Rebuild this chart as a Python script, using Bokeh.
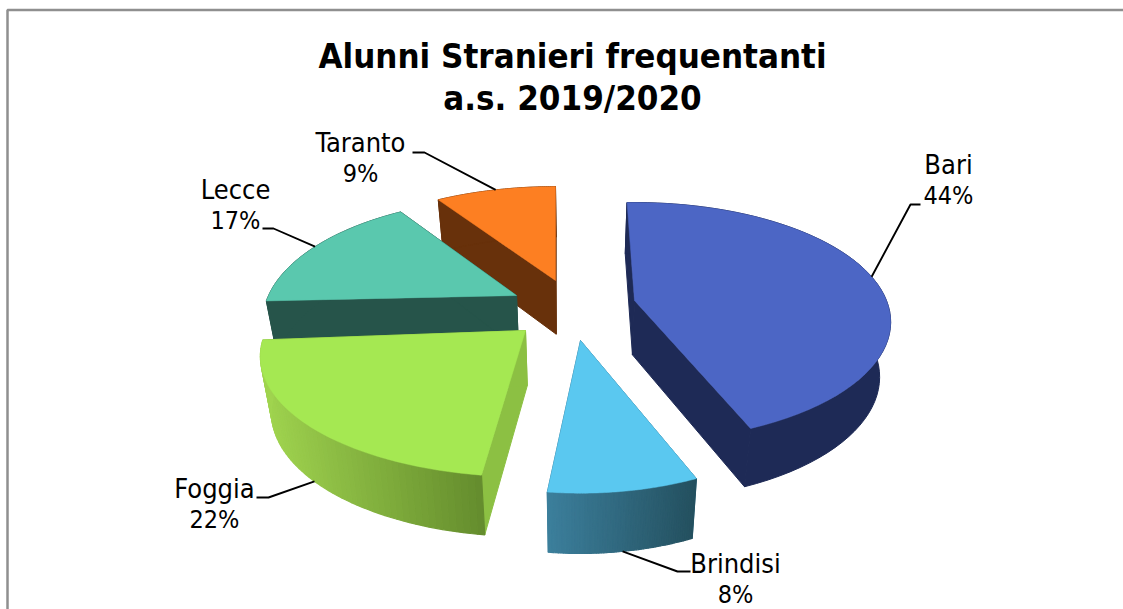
import numpy as np
from bokeh.plotting import figure
from bokeh.embed import file_html
from bokeh.resources import INLINE
from bokeh.models import Range1d

categories = ["Bari", "Brindisi", "Foggia", "Lecce", "Taranto"]
percent = [44, 8, 22, 17, 9]

# style / layout (screen pixel frame)
FONT = "DejaVu Sans Condensed, DejaVu Sans"
START = -1.0
persp = {"Bari": 0.18, "Brindisi": 0.214, "Foggia": 0.214, "Lecce": 0.214, "Taranto": 0.214}
radii = {"Bari": (252, 115.6), "Brindisi": (242, 120), "Foggia": (259, 115), "Lecce": (248, 118), "Taranto": (251, 114)}
trim = {"Bari": (-1, 0), "Brindisi": (0, 0), "Foggia": (1.5, 0), "Lecce": (2, 0), "Taranto": (0, 1)}
VIEW_CX, BOTTOM_SCALE = 575.0, 0.965
apex = {"Bari": (634, 300), "Brindisi": (580, 340), "Foggia": (525, 330), "Lecce": (516, 295), "Taranto": (555, 280)}
top_col = {"Bari": "#4c66c5", "Brindisi": "#5ac8f0", "Foggia": "#a5e852", "Lecce": "#5ac8ae", "Taranto": "#fd7f22"}
face_col = {"Bari": "#1e2a56", "Brindisi": "#3c7f9c", "Foggia": "#8cc043", "Lecce": "#26544a", "Taranto": "#68310b"}
side_l = {"Bari": "#1e2a56", "Brindisi": "#3c7f9c", "Foggia": "#a0d44f", "Lecce": "#26544a", "Taranto": "#68310b"}
side_r = {"Bari": "#1e2a56", "Brindisi": "#24505f", "Foggia": "#648c2d", "Lecce": "#26544a", "Taranto": "#68310b"}
draw_order = ["Taranto", "Lecce", "Bari", "Foggia", "Brindisi"]
label_pos = {"Bari": (948, 165), "Brindisi": (735, 564), "Foggia": (214, 489), "Lecce": (235, 190), "Taranto": (360, 143)}
leader = {"Bari": [(910, 204), (920, 204)], "Brindisi": [(677, 571), (690, 571)], "Foggia": [(268, 497), (256, 497)],
          "Lecce": [(273, 228), (262, 228)], "Taranto": [(424, 152), (412, 152)]}
leader_low = {"Bari": False, "Brindisi": True, "Foggia": True, "Lecce": False, "Taranto": False}


def rim(name, deg):
    t = np.radians(deg)
    X, Y = np.sin(t), np.cos(t)
    s = 1 / (1 + persp[name] * Y)
    ax, ay = apex[name]
    rx, ry = radii[name]
    return ax + rx * X * s, ay - ry * Y * s


def down(x, y):
    x, y = np.asarray(x, float), np.asarray(y, float)
    return VIEW_CX + (x - VIEW_CX) * BOTTOM_SCALE, y + 45 + 0.031 * y


def mix(a, b, f):
    ca = [int(a[i:i + 2], 16) for i in (1, 3, 5)]
    cb = [int(b[i:i + 2], 16) for i in (1, 3, 5)]
    return "#%02x%02x%02x" % tuple(int(round(p + (q - p) * f)) for p, q in zip(ca, cb))


cum = np.cumsum([0] + percent) * 3.6 + START
span = {c: (cum[i] + trim[c][0], cum[i + 1] + trim[c][1]) for i, c in enumerate(categories)}

p = figure(width=1123, height=609, x_range=Range1d(0, 1123), y_range=Range1d(609, 0),
           output_backend="svg", toolbar_location=None, min_border=0)
p.axis.visible = False
p.grid.visible = False
p.outline_line_color = None
p.background_fill_color = "white"

# frame
p.line([7, 7, 1123], [609, 9.5, 9.5], line_color="#8f8f8f", line_width=2.5)

for name in draw_order:
    a0, a1 = span[name]
    ang = np.linspace(a0, a1, 60)
    rx, ry = rim(name, ang)
    ax, ay = apex[name]
    bx, by = down(rx, ry)
    bax, bay = down(ax, ay)
    # radial faces
    for i in (0, -1):
        p.patch([ax, rx[i], bx[i], float(bax)], [ay, ry[i], by[i], float(bay)],
                fill_color=face_col[name], line_color=face_col[name], line_width=1)
    # outer wall
    if side_l[name] == side_r[name]:
        p.patch(list(rx) + list(bx[::-1]), list(ry) + list(by[::-1]), fill_color=side_l[name],
                line_color=side_l[name], line_width=1)
    else:
        xs, ys, cols = [], [], []
        xl, xr = rx.min(), rx.max()
        for i in range(len(ang) - 1):
            xs.append([rx[i], rx[i + 1], bx[i + 1], bx[i]])
            ys.append([ry[i], ry[i + 1], by[i + 1], by[i]])
            cols.append(mix(side_l[name], side_r[name], ((rx[i] + rx[i + 1]) / 2 - xl) / (xr - xl)))
        p.patches(xs, ys, fill_color=cols, line_color=cols, line_width=1.2)
    # top
    p.patch([ax] + list(rx), [ay] + list(ry), fill_color=top_col[name], line_color=top_col[name], line_width=0.5)

for name, val in zip(categories, percent):
    a0, a1 = span[name]
    sx, sy = rim(name, (a0 + a1) / 2)
    if leader_low[name]:
        sx, sy = down(sx, sy)
        sx, sy = float(sx), float(sy)
    (ex, ey), (fx, fy) = leader[name]
    p.line([sx, ex, fx], [sy, ey, fy], line_color="black", line_width=1.9)
    lx, ly = label_pos[name]
    p.text([lx], [ly - 1], text=[name], text_align="center", text_baseline="middle",
           text_font={"value": FONT}, text_font_size="27px", text_color="black")
    p.text([lx], [ly + 30], text=[f"{val}%"], text_align="center", text_baseline="middle",
           text_font={"value": FONT}, text_font_size="25px", text_color="black")

p.text([572, 572], [55, 97], text=["Alunni Stranieri frequentanti", "a.s. 2019/2020"],
       text_align="center", text_baseline="middle", text_font={"value": FONT}, text_font_style="bold",
       text_font_size="34.6px", text_color="black")

open("out.html", "w").write(file_html(p, INLINE))
